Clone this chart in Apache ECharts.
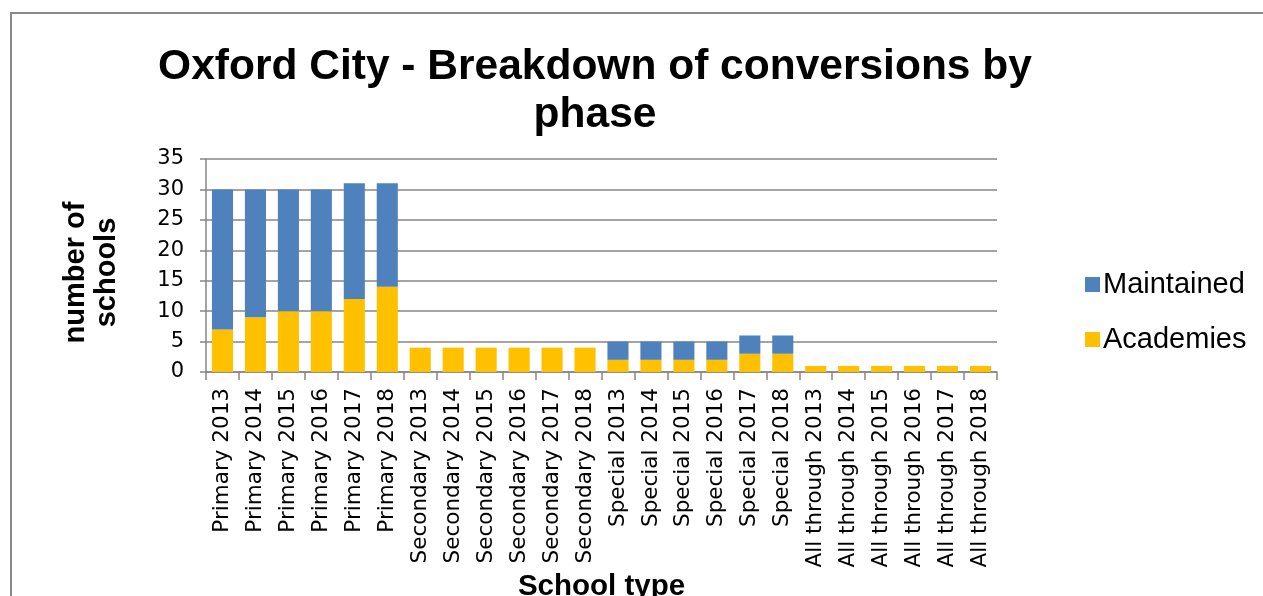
<!DOCTYPE html>
<html>
<head>
<meta charset="utf-8">
<script src="https://cdn.jsdelivr.net/npm/echarts@6/dist/echarts.min.js"></script>
<style>
  html, body { margin: 0; padding: 0; background: #fff; }
  #main { width: 1263px; height: 596px; }
</style>
</head>
<body>
<div id="main"></div>
<script>
// categories on the x axis
const categories = [
    'Primary 2013', 'Primary 2014', 'Primary 2015', 'Primary 2016', 'Primary 2017', 'Primary 2018',
    'Secondary 2013', 'Secondary 2014', 'Secondary 2015', 'Secondary 2016', 'Secondary 2017', 'Secondary 2018',
    'Special 2013', 'Special 2014', 'Special 2015', 'Special 2016', 'Special 2017', 'Special 2018',
    'All through 2013', 'All through 2014', 'All through 2015', 'All through 2016', 'All through 2017', 'All through 2018'
];
// stacked values, academies at the bottom
const academies = [7, 9, 10, 10, 12, 14, 4, 4, 4, 4, 4, 4, 2, 2, 2, 2, 3, 3, 1, 1, 1, 1, 1, 1];
const maintained = [23, 21, 20, 20, 19, 17, 0, 0, 0, 0, 0, 0, 3, 3, 3, 3, 3, 3, 0, 0, 0, 0, 0, 0];

const chart = echarts.init(document.getElementById('main'));

const option = {
    animation: false,
    backgroundColor: '#fff',
    title: {
        text: 'Oxford City - Breakdown of conversions by\nphase',
        left: 590,
        textAlign: 'center',
        top: 38,
        textStyle: {
            fontFamily: 'Liberation Sans',
            fontWeight: 'bold',
            fontSize: 42.5,
            lineHeight: 48,
            color: '#000'
        }
    },
    graphic: [{
        type: 'rect',
        shape: { x: 11, y: 13, width: 1400, height: 800 },
        style: { fill: 'none', stroke: '#898989', lineWidth: 2 },
        silent: true
    }],
    legend: {
        orient: 'vertical',
        left: 1080,
        top: 265,
        itemGap: 26,
        itemWidth: 15,
        itemHeight: 15,
        icon: 'rect',
        data: ['Maintained', 'Academies'],
        textStyle: { fontFamily: 'Liberation Sans', fontSize: 29, color: '#000', padding: [0, 0, 0, -2] }
    },
    grid: {
        left: 206,
        right: 266,
        top: 159,
        bottom: 224,
        containLabel: false,
        outerBoundsMode: 'none'
    },
    xAxis: {
        type: 'category',
        data: categories,
        name: 'School type',
        nameLocation: 'middle',
        nameGap: 198,
        nameTextStyle: { fontFamily: 'Liberation Sans', fontWeight: 'bold', fontSize: 29.5, color: '#000' },
        axisLine: { lineStyle: { color: '#868686', width: 1.5 } },
        axisTick: { show: true, length: 8, lineStyle: { color: '#868686', width: 1.5 } },
        axisLabel: {
            rotate: 90,
            margin: 16,
            fontFamily: 'DejaVu Sans',
            fontSize: 21.5,
            color: '#000',
            interval: 0
        }
    },
    yAxis: {
        type: 'value',
        min: 0,
        max: 35,
        interval: 5,
        name: 'number of\nschools',
        nameLocation: 'middle',
        nameGap: 84,
        nameRotate: 90,
        nameTextStyle: { fontFamily: 'Liberation Sans', fontWeight: 'bold', fontSize: 29, lineHeight: 31, color: '#000', padding: [0, 14, 0, 0] },
        axisLine: { show: true, lineStyle: { color: '#868686', width: 1.5 } },
        axisTick: { show: true, length: 6, lineStyle: { color: '#868686', width: 1.5 } },
        splitLine: { lineStyle: { color: '#868686', width: 1.5 } },
        axisLabel: { fontFamily: 'DejaVu Sans', fontSize: 21, color: '#000', margin: 22 }
    },
    series: [
        {
            name: 'Academies',
            type: 'bar',
            stack: 'total',
            barWidth: '64%',
            itemStyle: { color: '#FFC000' },
            data: academies
        },
        {
            name: 'Maintained',
            type: 'bar',
            stack: 'total',
            barWidth: '64%',
            itemStyle: { color: '#4F81BD' },
            data: maintained
        }
    ]
};

chart.setOption(option);
</script>
</body>
</html>
